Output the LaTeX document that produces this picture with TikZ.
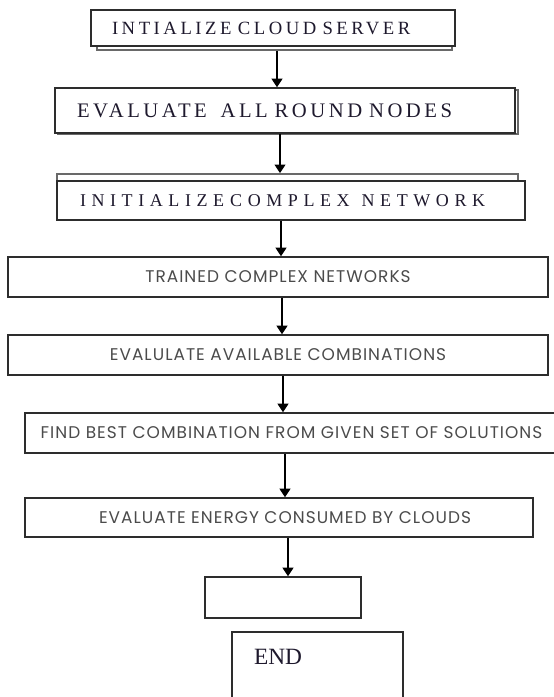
\documentclass[tikz,border=0pt]{standalone}
\usepackage{fontspec}
\usetikzlibrary{arrows.meta}
\setmainfont{Liberation Serif}
\newfontfamily\stepsans{Poppins}[LetterSpace=6]
\newcommand\stepserif[1]{\fontspec{Liberation Serif}[LetterSpace=#1]}

\definecolor{boxline}{RGB}{45,45,45}
\definecolor{shadeline}{RGB}{105,105,105}
\definecolor{serifink}{RGB}{30,25,45}
\definecolor{sansink}{RGB}{75,75,75}

\tikzset{every picture/.style={line width=0.75pt}}
\tikzset{
	stepbox/.style={draw=boxline, line width=1pt, fill=white, inner sep=0pt},
	backbox/.style={draw=shadeline, line width=1.2pt, inner sep=0pt},
	flow/.style={draw=black, line width=1.5pt, -{Triangle[width=8pt,length=6.5pt]}},
	seriftext/.style={align=left, text=serifink},
	sanstext/.style={font=\stepsans\fontsize{12.7}{14}\selectfont, text=sansink}
}

\begin{document}
\begin{tikzpicture}[x=0.75pt,y=0.75pt,yscale=-1,xscale=1]
	\useasboundingbox (0,0) rectangle (554,697);

	% offset outlines behind the first three steps
	\node [backbox, minimum width=266.25pt, minimum height=27pt] (srvback) at (274.5,32) {};
	\node [backbox, minimum width=345pt, minimum height=33pt] (nodesback) at (288,112) {};
	\node [backbox, minimum width=345.75pt, minimum height=27pt] (netback) at (287.5,192) {};

	% Steps
	\node [stepbox, seriftext, inner xsep=15.75pt, text width=241.5pt, minimum height=27pt,
		font=\stepserif{19}\fontsize{14}{16}\selectfont] (srv) at (273,28) {INTIALIZE CLOUD SERVER};
	\node [stepbox, seriftext, inner xsep=16.5pt, text width=312pt, minimum height=33.75pt,
		font=\stepserif{17}\fontsize{15.5}{17}\selectfont] (nodes) at (285,110.5) {EVALUATE\ \ ALL\ ROUND\ NODES};
	\node [stepbox, seriftext, inner xsep=17.25pt, text width=316.5pt, minimum height=29.25pt,
		font=\stepserif{31}\fontsize{13.5}{15}\selectfont] (net) at (291,200.5) {INITIALIZE COMPLEX\ \ NETWORK};
	\node [stepbox, sanstext, minimum width=405pt, minimum height=30pt] (trained) at (278,277) {TRAINED COMPLEX NETWORKS};
	\node [stepbox, sanstext, minimum width=405pt, minimum height=30pt] (combos) at (278,355) {EVALULATE AVAILABLE COMBINATIONS};
	\node [stepbox, sanstext, minimum width=399.75pt, minimum height=30pt] (best) at (291.5,433) {FIND BEST COMBINATION FROM GIVEN SET OF SOLUTIONS};
	\node [stepbox, sanstext, minimum width=381pt, minimum height=29.25pt] (energy) at (279,517.5) {\hspace*{9pt}EVALUATE ENERGY CONSUMED BY CLOUDS};
	\node [stepbox, minimum width=117pt, minimum height=30.75pt] (blank) at (283,597.5) {};
	\node [stepbox, minimum width=128.25pt, minimum height=58.5pt] (finish) at (317.5,671) {};
	\node [text=serifink, font=\fontsize{17.5}{20}\selectfont] (endlabel) at (278,657) {END};

	% Arrows
	\draw [flow] (srvback.south -| 277,0) -- (nodes.north -| 277,0);
	\draw [flow] (nodes.south -| 280,0) -- (netback.north -| 280,0);
	\draw [flow] (net.south -| 281,0) -- (trained.north -| 281,0);
	\draw [flow] (trained.south -| 282,0) -- (combos.north -| 282,0);
	\draw [flow] (combos.south -| 283,0) -- (best.north -| 283,0);
	\draw [flow] (best.south -| 285,0) -- (energy.north -| 285,0);
	\draw [flow] (energy.south -| 288,0) -- (blank.north -| 288,0);

\end{tikzpicture}
\end{document}
